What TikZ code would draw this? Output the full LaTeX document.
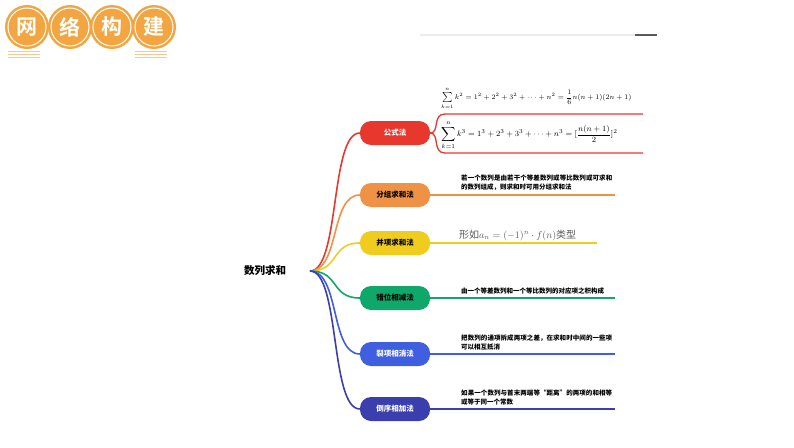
\documentclass[tikz,border=0pt]{standalone}
\usepackage{fontspec}
\newfontfamily\cjk{Noto Sans CJK SC}
\newfontfamily\cjkb{Noto Sans CJK SC Bold}
\XeTeXlinebreaklocale "zh"
\XeTeXlinebreakskip=0pt plus 1pt
\begin{document}
\begin{tikzpicture}[x=1pt,y=-1pt,
 pill/.style={rounded corners=11pt,minimum width=70pt,minimum height=24pt,inner sep=0pt,font=\cjk\bfseries\fontsize{7.5}{9}\selectfont},
 desc/.style={anchor=south west,align=left,text width=152pt,inner sep=1pt,font=\cjk\bfseries\fontsize{6.5}{9}\selectfont},
 br/.style={line width=1.6pt},
 ul/.style={line width=1.3pt}]
\useasboundingbox (0,0) rectangle (794,447);
\definecolor{cR}{HTML}{E8382E}\definecolor{cO}{HTML}{EF9245}\definecolor{cY}{HTML}{F0CC1E}
\definecolor{cG}{HTML}{10A86A}\definecolor{cB}{HTML}{3F5FE0}\definecolor{cI}{HTML}{3B3FAE}
\definecolor{hd}{HTML}{F2A540}
% header
\foreach \x/\t [count=\i] in {27/网,70/络,112/构,154/建}{
 \node[circle,fill=hd,minimum size=44pt,inner sep=0pt] (h\i) at (\x,27) {};
 \node[circle,draw=white,line width=1pt,minimum size=38pt,inner sep=0pt,text=white,font=\cjkb\fontsize{21}{21}\selectfont] (t\i) at (\x,27) {\t};}
\foreach \y in {51,54,57}{\draw[hd!60,line width=0.8pt] (8,\y) -- (40,\y); \draw[hd!60,line width=0.8pt] (135,\y) -- (167,\y);}
\draw[gray!15,line width=1.2pt] (420,35) -- (635,35);
\draw[gray!70!black,line width=1.5pt] (635,35) -- (657,35);
% root
\node[font=\cjk\bfseries\fontsize{10.5}{12}\selectfont] (root) at (265,271) {数列求和};
\coordinate (r) at (310,271);
\foreach \n/\y/\c/\t/\tc in {a/133/cR/公式法/white,b/195/cO/分组求和法/black,c/243/cY/并项求和法/black,d/298/cG/错位相减法/black,e/354/cB/裂项相消法/white,f/409/cI/倒序相加法/white}{
 \node[pill,fill=\c,text=\tc] (\n) at (395,\y) {\t};
 \draw[br,\c] (r) .. controls (340,271) and (330,\y) .. (\n.west);}
% formula branch
\coordinate (fa1) at (445,114);\coordinate (fa2) at (643,114);
\coordinate (fb1) at (445,153);\coordinate (fb2) at (643,153);
\draw[ul,cR] (a.east) .. controls (440,133) and (432,114) .. (fa1) -- (fa2);
\draw[ul,cR] (a.east) .. controls (440,133) and (432,153) .. (fb1) -- (fb2);
\node[anchor=south west,inner sep=1pt,font=\fontsize{6.6}{7}\selectfont] (f1) at (440,111) {$\sum\limits_{k=1}^{n}k^2=1^2+2^2+3^2+\cdots+n^2={\displaystyle\frac16} n(n+1)(2n+1)$};
\node[anchor=south west,inner sep=1pt,font=\fontsize{8.3}{9}\selectfont] (f2) at (440,151) {$\displaystyle\sum_{k=1}^{n}k^3=1^3+2^3+3^3+\cdots+n^3=[\frac{n(n+1)}{2}]^2$};
% other branches
\coordinate (eb) at (615,195);\coordinate (ec) at (597,243);\coordinate (ed) at (615,298);\coordinate (ee) at (615,354);\coordinate (ef) at (615,409);
\draw[ul,cO] (b.east) -- (eb);\draw[ul,cY] (c.east) -- (ec);\draw[ul,cG] (d.east) -- (ed);\draw[ul,cB] (e.east) -- (ee);\draw[ul,cI] (f.east) -- (ef);
\node[desc] (tb) at (460,192) {若一个数列是由若干个等差数列或等比数列或可求和的数列组成，则求和时可用分组求和法};
\node[anchor=south west,inner sep=1pt,text=gray!70!black,font=\fontsize{10}{11}\selectfont] (tc) at (458,242) {\cjk 形如$a_n=(-1)^n\cdot f(n)$类型};
\node[desc] (td) at (460,295) {由一个等差数列和一个等比数列的对应项之积构成};
\node[desc] (te) at (460,351) {把数列的通项拆成两项之差，在求和时中间的一些项可以相互抵消};
\node[desc] (tf) at (460,406) {如果一个数列与首末两端等“距离”的两项的和相等或等于同一个常数};
\end{tikzpicture}
\end{document}
